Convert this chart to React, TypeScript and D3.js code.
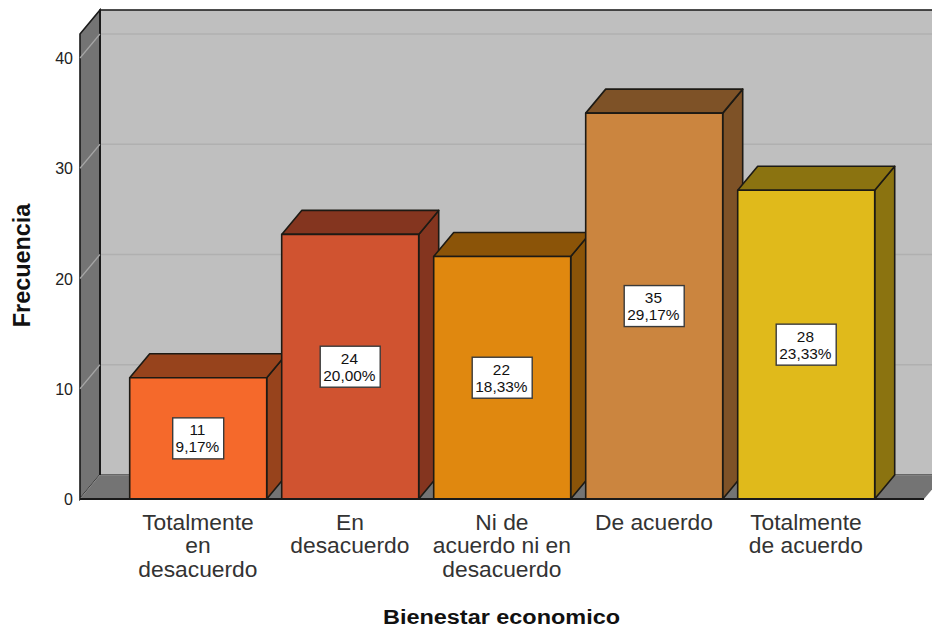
import React from "react";
import * as d3 from "d3";

const categories = ["Totalmente|en|desacuerdo", "En|desacuerdo", "Ni de|acuerdo ni en|desacuerdo", "De acuerdo", "Totalmente|de acuerdo"];
const counts = [11, 24, 22, 35, 28];
const percents = ["9,17%", "20,00%", "18,33%", "29,17%", "23,33%"];
const frontColors = ["#F5692B", "#D05330", "#E0880F", "#CB853F", "#E0BA1B"];
const sideColors = ["#97431C", "#84351F", "#8B5408", "#7E5227", "#8B7310"];
const yTicks = [0, 10, 20, 30, 40];
const xTitle = "Bienestar economico";
const yTitle = "Frecuencia";

const DX = 20;
const DY = 24;
const FONT = "'Liberation Sans', Arial, sans-serif";
const EDGE = "#1d1a14";

const y = d3.scaleLinear().domain([0, 40]).range([499, 58]);
const x = d3.scaleBand<number>().domain(d3.range(categories.length)).range([122.2, 882.2]).paddingInner(15 / 152).paddingOuter(7.5 / 152);

const poly = (pts: [number, number][]) => pts.map((p) => p.join(",")).join(" ");

export default function App() {
  const left = 80, right = 924, base = y(0), top = 34;
  return (
    <svg width={932} height={628} viewBox="0 0 932 628" style={{ position: "fixed", left: 0, top: 0, background: "#fff" }} fontFamily={FONT}>
      {/* back wall */}
      <rect x={left + DX} y={top - DY} width={right - left} height={base - top} fill="#BFBFBF" stroke="#222" strokeWidth={1.6} />
      {/* left wall */}
      <polygon points={poly([[left, top], [left + DX, top - DY], [left + DX, base - DY], [left, base]])} fill="#747474" stroke="#1a1a1a" strokeWidth={1.6} />
      {/* floor */}
      <polygon points={poly([[left, base], [left + DX, base - DY], [right + DX, base - DY], [right, base]])} fill="#747474" stroke="none" />
      <polyline points={poly([[left, base], [left + DX, base - DY], [right + DX, base - DY]])} fill="none" stroke="#8e8e8e" strokeWidth={1} />
      <line x1={left + DX} x2={left + DX} y1={top - DY} y2={base - DY} stroke="#1a1a1a" strokeWidth={2} />
      {/* gridlines */}
      {yTicks.slice(1).map((t) => (
        <g key={t}>
          <line x1={left + DX + 1} x2={932} y1={y(t) - DY} y2={y(t) - DY} stroke="#B0B0B0" strokeWidth={1.4} />
          <line x1={left} x2={left + DX} y1={y(t)} y2={y(t) - DY} stroke="#A6A6A6" strokeWidth={1.2} />
        </g>
      ))}
      {/* bars */}
      {counts.map((v, i) => {
        const x0 = x(i)!;
        const x1 = x0 + x.bandwidth();
        const yt = y(v);
        return (
          <g key={i} stroke={EDGE} strokeWidth={1.6} strokeLinejoin="round">
            <polygon points={poly([[x1, yt], [x1 + DX, yt - DY], [x1 + DX, base - DY], [x1, base]])} fill={sideColors[i]} />
            <polygon points={poly([[x0, yt], [x0 + DX, yt - DY], [x1 + DX, yt - DY], [x1, yt]])} fill={sideColors[i]} />
            <rect x={x0} y={yt} width={x.bandwidth()} height={base - yt} fill={frontColors[i]} />
          </g>
        );
      })}
      {/* front baseline */}
      <line x1={left} x2={right} y1={base} y2={base} stroke="#1a1a1a" strokeWidth={2} />
      {/* value labels */}
      {counts.map((v, i) => {
        const cx = x(i)! + x.bandwidth() / 2;
        const cy = (y(v) + base) / 2;
        const w = i === 0 ? 51 : 60;
        return (
          <g key={i}>
            <rect x={cx - w / 2} y={cy - 20.5} width={w} height={41} fill="#fff" stroke="#3a3a3a" strokeWidth={1.4} />
            <text x={cx - 0.8} y={cy - 3} textAnchor="middle" fontSize={15.4} fill="#111">{v}</text>
            <text x={cx - 0.8} y={cy + 14} textAnchor="middle" fontSize={15.4} fill="#111">{percents[i]}</text>
          </g>
        );
      })}
      {/* y ticks */}
      {yTicks.map((t) => (
        <text key={t} x={left - 7} y={y(t) + 6} textAnchor="end" fontSize={16} fill="#222">{t}</text>
      ))}
      {/* category labels */}
      {categories.map((c, i) => (
        <text key={i} textAnchor="middle" fontSize={22.8} fill="#333">
          {c.split("|").map((line, j) => (
            <tspan key={j} x={x(i)! + x.bandwidth() / 2 - 0.3} y={529.5 + j * 23.7}>{line}</tspan>
          ))}
        </text>
      ))}
      <text transform="translate(501.5,623.5) scale(1.173,1)" textAnchor="middle" fontSize={20} fontWeight="bold" fill="#111">{xTitle}</text>
      <text transform="translate(29.5,265.5) rotate(-90)" textAnchor="middle" fontSize={23.4} fontWeight="bold" fill="#111">{yTitle}</text>
    </svg>
  );
}
